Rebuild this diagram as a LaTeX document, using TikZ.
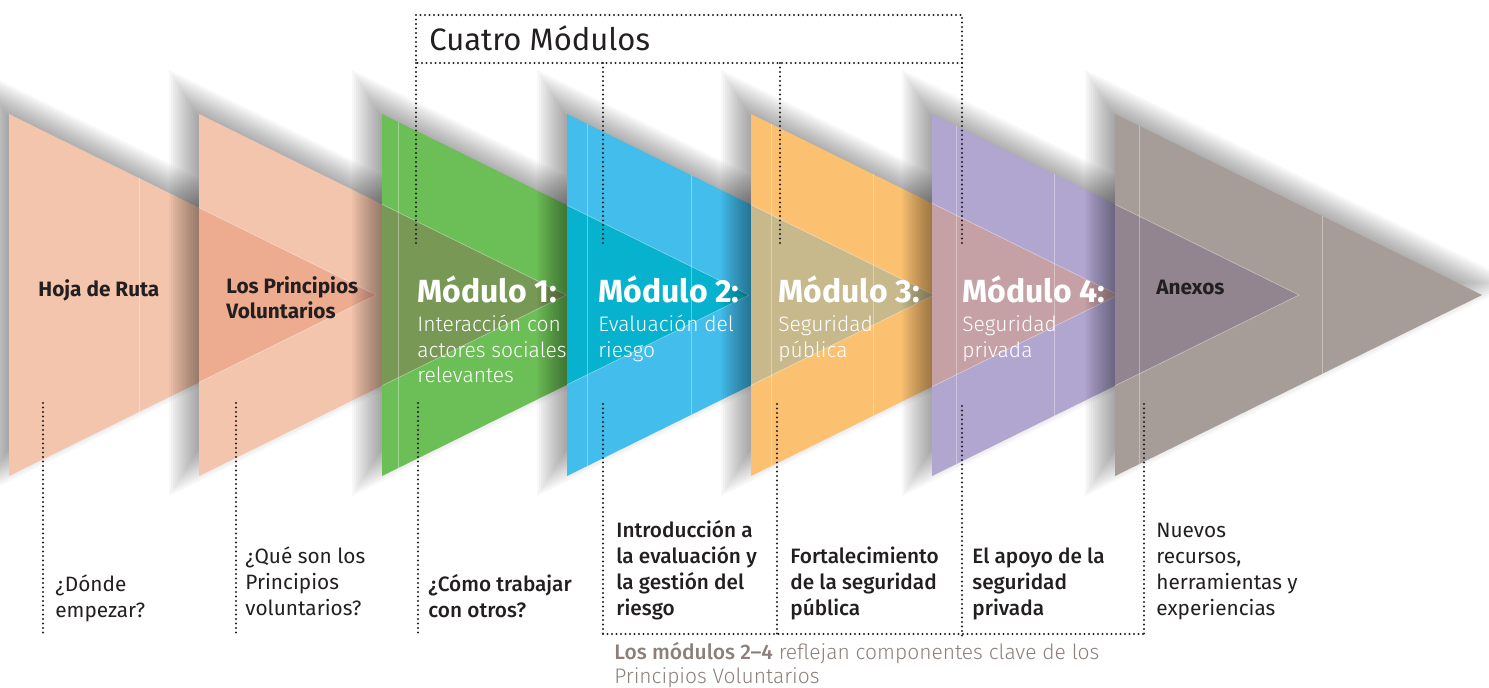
\documentclass[tikz,border=0pt]{standalone}
\usepackage{fontspec}
\setmainfont{Fira Sans}
\newfontfamily\lightfont{Fira Sans Light}
\newfontfamily\medfont{Fira Sans Medium}
\usetikzlibrary{positioning}

\definecolor{ink}{RGB}{35,31,32}
\definecolor{capgray}{RGB}{140,127,122}
\definecolor{salmon}{RGB}{243,197,172}
\definecolor{leaf}{RGB}{108,190,87}
\definecolor{sky}{RGB}{67,189,236}
\definecolor{sand}{RGB}{251,193,113}
\definecolor{lilac}{RGB}{176,166,208}
\definecolor{taupe}{RGB}{166,157,153}
\definecolor{salmonmix}{RGB}{237,171,144}
\definecolor{olivemix}{RGB}{120,152,86}
\definecolor{tealmix}{RGB}{6,178,205}
\definecolor{khakimix}{RGB}{199,185,139}
\definecolor{rosemix}{RGB}{197,161,165}
\definecolor{mauvemix}{RGB}{146,133,143}

% one arrow = triangle of width 367 and height 362 (px), left edge at #1
% soft shadow: scaled copies round the incentre, moved up and left
\newcommand{\arrowshadow}[1]{%
  \foreach \s in {-20,-18,...,20}
    \fill[black, opacity=0.028, shift={(#1+102.5,283)}, scale={(112.5+\s)/112.5}]
      (-112.5,-181) -- (254.5,0) -- (-112.5,181) -- cycle;
}
\newcommand{\arrowtri}[2]{\fill[#2] (#1,114) -- (#1+367,295) -- (#1,476) -- cycle;}
\newcommand{\arrowoverlap}[3]{%
  \filldraw[#3, draw=white, draw opacity=0.45, line width=0.3pt]
    (#2,{114+(#2-#1)*0.4932}) -- (#1+367,295) -- (#2,{476-(#2-#1)*0.4932});
}
\newcommand{\arrowseam}[2]{%
  \draw[white, opacity=0.35, line width=0.4pt] (#1+#2,{114+#2*0.4932}) -- (#1+#2,{476-#2*0.4932});
}

\tikzset{
  dots/.style={line width=1.1pt, dash pattern=on 0pt off 2.25pt, line cap=round, color=ink},
  stage/.style={anchor=base west, inner sep=0pt, align=left, text=ink,
    font=\bfseries\fontsize{10.4}{12.5}\selectfont},
  modtitle/.style={anchor=base west, inner sep=0pt, text=white,
    font=\bfseries\fontsize{16}{19}\selectfont},
  modtext/.style={anchor=base west, inner sep=0pt, align=left, text=white,
    font=\lightfont\fontsize{10.5}{12.75}\selectfont},
  question/.style={anchor=base west, inner sep=0pt, align=left, text=ink,
    font=\fontsize{10.4}{13}\selectfont},
  answer/.style={question, font=\medfont\fontsize{10.4}{13}\selectfont},
}

\begin{document}
\begin{tikzpicture}[x=0.5pt, y=-0.5pt]
\useasboundingbox (0,0) rectangle (1489,688);

% arrows, left to right
\arrowshadow{9}
\arrowtri{9}{salmon}
\arrowseam{9}{130}
\arrowshadow{199}
\arrowtri{199}{salmon}
\arrowoverlap{9}{199}{salmonmix}
\arrowshadow{382}
\arrowtri{382}{leaf}
\arrowoverlap{199}{382}{olivemix}
\arrowseam{382}{16}
\arrowshadow{567}
\arrowtri{567}{sky}
\arrowoverlap{382}{567}{tealmix}
\arrowseam{567}{20}
\arrowseam{567}{124}
\arrowshadow{751}
\arrowtri{751}{sand}
\arrowoverlap{567}{751}{khakimix}
\arrowseam{751}{20}
\arrowseam{751}{122}
\arrowshadow{932}
\arrowtri{932}{lilac}
\arrowoverlap{751}{932}{rosemix}
\arrowseam{932}{24}
\arrowseam{932}{122}
\arrowshadow{1115}
\arrowtri{1115}{taupe}
\arrowoverlap{932}{1115}{mauvemix}
\arrowseam{1115}{24}
\arrowseam{1115}{207}

% texts in the arrows (multi-line nodes sit on their last line)
\node (hoja) [stage] at (38,297) {Hoja de Ruta};
\node (princ) [stage] at (226,319) {Los Principios\\Voluntarios};
\node (mod1) [modtitle] at (417,303) {Módulo 1:};
\node (mod1txt) [modtext] at (417,383) {Interacción con\\actores sociales\\relevantes};
\node (mod2) [modtitle] at (598,303) {Módulo 2:};
\node (mod2txt) [modtext] at (598,357.5) {Evaluación del\\riesgo};
\node (mod3) [modtitle] at (778,303) {Módulo 3:};
\node (mod3txt) [modtext] at (778,357.5) {Seguridad\\pública};
\node (mod4) [modtitle] at (962,303) {Módulo 4:};
\node (mod4txt) [modtext] at (962,357.5) {Seguridad\\privada};
\node (anexos) [stage] at (1156,295) {Anexos};

% four modules bracket
\coordinate (boxnw) at (416,15);
\coordinate (boxse) at (962,63);
\draw [dots] (boxnw) rectangle (boxse);
\node (cuatro) [anchor=base west, inner sep=0pt, text=ink, font=\fontsize{15.5}{18}\selectfont] at (429,51) {Cuatro Módulos};
\foreach \x in {416,603,780,962}
  \draw [dots] (\x,63) -- (\x,244);

% questions below
\foreach \x in {43,236,418}
  \draw [dots] (\x,403) -- (\x,635);
\foreach \x in {603,777,1144}
  \draw [dots] (\x,404) -- (\x,634);
\draw [dots] (962,406) -- (962,638);
\draw [dots] (603,634) -- (1144,634);

\node (q0) [question] at (55,618) {¿Dónde\\empezar?};
\node (q1) [question] at (245,616) {¿Qué son los\\Principios\\voluntarios?};
\node (q2) [answer] at (428,618) {¿Cómo trabajar\\con otros?};
\node (q3) [answer] at (616,616) {Introducción a\\la evaluación y\\la gestión del\\riesgo};
\node (q4) [answer] at (790,616) {Fortalecimiento\\de la seguridad\\pública};
\node (q5) [answer] at (972,616) {El apoyo de la\\seguridad\\privada};
\node (q6) [question] at (1156,616) {Nuevos\\recursos,\\herramientas y\\experiencias};

\node (note) [anchor=base west, inner sep=0pt, align=left, text=capgray, font=\lightfont\fontsize{10.5}{12}\selectfont] at (614,684)
  {{\medfont Los módulos 2–4} reflejan componentes clave de los\\Principios Voluntarios};
\end{tikzpicture}
\end{document}
